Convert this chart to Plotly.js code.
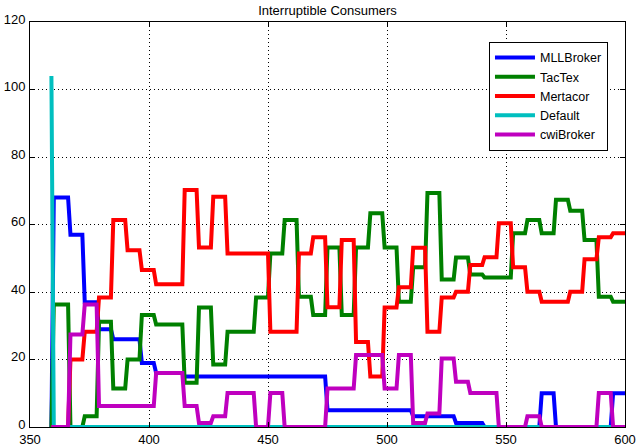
<!DOCTYPE html>
<html>
<head>
<meta charset="utf-8">
<script src="https://cdn.plot.ly/plotly-3.0.1.min.js"></script>
<style>html,body{margin:0;padding:0;background:#fff;}#chart{width:639px;height:446px;}</style>
</head>
<body>
<div id="chart"></div>
<script>
// Time slot at which each series' first sample is recorded
const firstSlot = 359;
// Start of each 6-slot averaging block (value holds until next block start - 1)
const blockStarts = [360, 367, 373, 379, 385, 391, 397, 403, 409, 415, 421, 427, 433, 439, 445, 451, 457, 463, 469, 475,
                     481, 487, 493, 499, 505, 511, 517, 523, 529, 535, 541, 547, 553, 559, 565, 571, 577, 583, 589, 595];
const lastSlot = 600;

const seriesNames = ["MLLBroker", "TacTex", "Mertacor", "Default", "cwiBroker"];
const seriesColors = ["#0000FF", "#008000", "#FF0000", "#00BFBF", "#BF00BF"];

// Value at the first slot
const firstValues = [0, 0, 0, 104, 0];

const mllBroker = [68, 57, 37, 29, 26, 26, 19, 16, 16, 15, 15, 15, 15, 15, 15, 15, 15, 15, 15, 5,
                   5, 5, 5, 5, 5, 3.2, 3.2, 3.2, 1.2, 1.2, 0, 0, 0, 0, 10, 0, 0, 0, 0, 10];
const tacTex = [36.3, 0, 3.2, 31.2, 11.4, 20, 33.2, 30.4, 30.4, 13.1, 35.4, 18.5, 28.2, 28.2, 38.4, 51.4, 61.3, 38.6, 33.2, 53.2,
                33.2, 53.2, 63.3, 53.2, 37.1, 47.3, 69.3, 43.7, 50.2, 45.2, 44.3, 44.3, 57.4, 61.3, 57.4, 67.3, 64.1, 55.4, 38.6, 37.1];
const mertacor = [0, 20, 28.2, 38.4, 61.3, 52.4, 46.5, 42.3, 42.3, 70.2, 53.2, 68.2, 51.4, 51.4, 51.4, 28.2, 28.2, 51.4, 56.2, 35.5,
                  55.4, 25.2, 15, 35.4, 41.4, 53.1, 28.2, 38.4, 40.1, 48, 50.3, 60.4, 47.3, 40.1, 37.1, 37.1, 40.1, 49.7, 56.2, 57.4];
const defaultBroker = [0, 0, 0, 0, 0, 0, 0, 0, 0, 0, 0, 0, 0, 0, 0, 0, 0, 0, 0, 0,
                       0, 0, 0, 0, 0, 0, 0, 0, 0, 0, 0, 0, 0, 0, 0, 0, 0, 0, 0, 0];
const cwiBroker = [0, 27.4, 36.3, 6.2, 6.2, 6.2, 6.2, 16, 16, 6.2, 1.2, 3.2, 10.1, 10.1, 0, 10.1, 0, 0, 0, 11.4,
                   11.4, 21.3, 21.3, 11.4, 21.3, 1.2, 4, 20.3, 13.4, 10.1, 10.1, 0, 0, 3.2, 0, 0, 0, 0, 10.1, 0];

const allValues = [mllBroker, tacTex, mertacor, defaultBroker, cwiBroker];

function buildSeries(first, vals) {
  const xs = [firstSlot], ys = [first];
  for (let i = 0; i < blockStarts.length; i++) {
    const end = (i + 1 < blockStarts.length) ? blockStarts[i + 1] - 1 : lastSlot;
    xs.push(blockStarts[i], end);
    ys.push(vals[i], vals[i]);
  }
  return {x: xs, y: ys};
}

const traces = seriesNames.map((name, k) => {
  const s = buildSeries(firstValues[k], allValues[k]);
  return {
    type: 'scatter', mode: 'lines', name: name,
    x: s.x, y: s.y,
    line: {color: seriesColors[k], width: 4}
  };
});

const FONT = 'Liberation Sans, Arial, sans-serif';

const axisCommon = {
  showline: true, mirror: 'ticks', linecolor: '#000', linewidth: 1,
  ticks: 'inside', ticklen: 5, tickcolor: '#000', tickwidth: 1,
  showgrid: true, gridcolor: '#000', gridwidth: 1, griddash: '1px,3px',
  zeroline: false,
  tickfont: {family: FONT, size: 13, color: '#000'}
};

const layout = {
  width: 639, height: 446,
  margin: {l: 30, r: 14, t: 22, b: 19, pad: 0, autoexpand: false},
  paper_bgcolor: '#fff', plot_bgcolor: '#fff',
  title: {text: 'Interruptible Consumers', x: 0.5, xref: 'paper', y: 0.977, yref: 'container', yanchor: 'middle',
          font: {family: FONT, size: 13, color: '#000'}},
  xaxis: Object.assign({}, axisCommon, {range: [350, 600], tick0: 350, dtick: 50}),
  yaxis: Object.assign({}, axisCommon, {range: [0, 120], tick0: 0, dtick: 20, ticklabelstandoff: 1, ticklabelshift: -3}),
  showlegend: true,
  legend: {x: 0.9714, xanchor: 'right', y: 0.951, yanchor: 'top',
           bgcolor: '#fff', bordercolor: '#000', borderwidth: 1, itemwidth: 40,
           font: {family: FONT, size: 12.5, color: '#000'}}
};

Plotly.newPlot('chart', traces, layout, {staticPlot: true, displayModeBar: false});
</script>
</body>
</html>
